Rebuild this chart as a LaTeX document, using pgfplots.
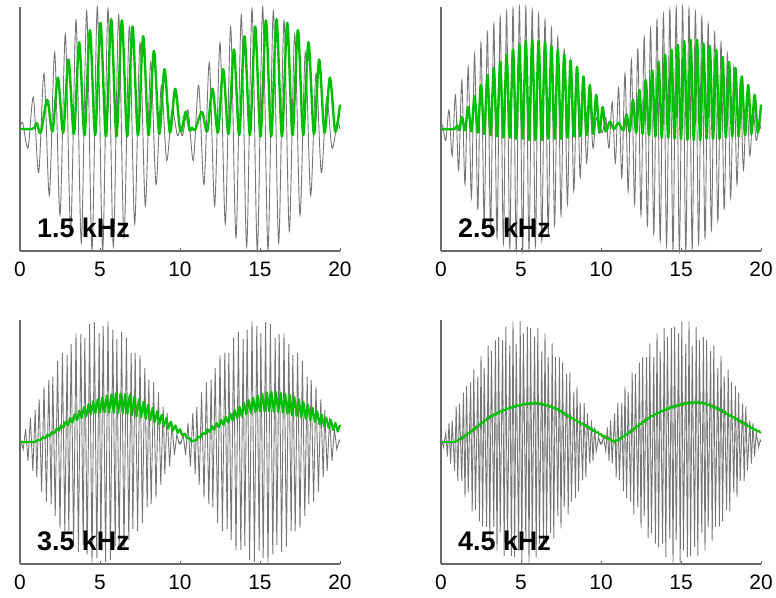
\documentclass[border=0pt]{standalone}
\usepackage{fontspec}
\setmainfont{Liberation Sans}
\usepackage{pgfplots}
\pgfplotsset{compat=1.18}
\usetikzlibrary{decorations.pathmorphing}
\definecolor{wave}{RGB}{118,118,118}
\definecolor{resp}{RGB}{0,190,0}
\definecolor{axgray}{RGB}{105,105,105}
\tikzset{lab/.style={anchor=base west, inner sep=0pt, font=\fontsize{27}{30}\selectfont\bfseries}}
\pgfplotsset{
  panel/.style={width=320bp,height=244bp,scale only axis,
    xmin=0,xmax=20,ymin=-1,ymax=1,
    axis lines*=left, axis line style={-,draw=axgray,line width=1.1bp},
    ytick=\empty, xtick={0,5,10,15,20},
    tick align=inside, major tick length=3bp,
    xtick style={draw=axgray,line width=0.9bp},
    xticklabel style={font=\fontsize{21}{25}\selectfont, inner sep=0pt, yshift=-11bp},
    /pgf/number format/assume math mode=true,
    clip=false, anchor=south west},
  gr/.style={wave, line width=0.9bp},
  gn/.style={resp, line width=2.4bp, line join=round}
}
\begin{document}
\begin{tikzpicture}
\useasboundingbox (0,0) rectangle (776bp,-598bp);

% ---------------- 1.5 kHz ----------------
\begin{axis}[panel, at={(20bp,-251bp)}]
\addplot[gr, smooth] coordinates {
(0,0)(0.167,0.0523)(0.5,-0.1564)(0.833,0.2588)(1.167,-0.3584)(1.5,0.4540)(1.833,-0.5446)(2.167,0.6293)(2.5,-0.7071)(2.833,0.7771)(3.167,-0.8387)(3.5,0.8910)(3.833,-0.9336)(4.167,0.9659)(4.5,-0.9877)(4.833,0.9986)(5.167,-0.9986)(5.5,0.9877)(5.833,-0.9659)(6.167,0.9336)(6.5,-0.8910)(6.833,0.8387)(7.167,-0.7771)(7.5,0.7071)(7.833,-0.6293)(8.167,0.5446)(8.5,-0.4540)(8.833,0.3584)(9.167,-0.2588)(9.5,0.1564)(9.833,-0.0523)(10,0)
(10.167,-0.0523)(10.5,0.1564)(10.833,-0.2588)(11.167,0.3584)(11.5,-0.4540)(11.833,0.5446)(12.167,-0.6293)(12.5,0.7071)(12.833,-0.7771)(13.167,0.8387)(13.5,-0.8910)(13.833,0.9336)(14.167,-0.9659)(14.5,0.9877)(14.833,-0.9986)(15.167,0.9986)(15.5,-0.9877)(15.833,0.9659)(16.167,-0.9336)(16.5,0.8910)(16.833,-0.8387)(17.167,0.7771)(17.5,-0.7071)(17.833,0.6293)(18.167,-0.5446)(18.5,0.4540)(18.833,-0.3584)(19.167,0.2588)(19.5,-0.1564)(19.833,0.0523)(20,0)};
\addplot[gn, smooth] coordinates {
(0,0)(0.75,0)(0.9,0.01)(1.05,0.05)(1.3,-0.03)(1.7,0.24)(2.03,-0.02)(2.37,0.42)(2.7,-0.03)(3.03,0.57)(3.37,-0.04)(3.7,0.71)(4.03,-0.05)(4.37,0.81)(4.7,-0.05)(5.03,0.87)(5.37,-0.06)(5.7,0.90)(6.03,-0.06)(6.37,0.89)(6.7,-0.06)(7.03,0.84)(7.37,-0.05)(7.7,0.76)(8.03,-0.05)(8.37,0.64)(8.7,-0.04)(9.03,0.49)(9.37,-0.03)(9.7,0.33)(10.03,-0.02)(10.36,0.14)(10.6,-0.01)(10.75,0.01)(10.95,-0.005)
(11.37,0.14)(11.7,-0.02)(12.03,0.33)(12.37,-0.03)(12.7,0.49)(13.03,-0.04)(13.37,0.65)(13.7,-0.05)(14.03,0.76)(14.37,-0.05)(14.7,0.84)(15.03,-0.06)(15.37,0.89)(15.7,-0.06)(16.03,0.90)(16.37,-0.06)(16.7,0.87)(17.03,-0.05)(17.37,0.81)(17.7,-0.05)(18.03,0.71)(18.37,-0.04)(18.7,0.57)(19.03,-0.03)(19.37,0.42)(19.7,-0.02)(20,0.2)};
\node[lab] at (axis cs:1.06,-0.893) {1.5 kHz};
\end{axis}

% ---------------- 2.5 kHz ----------------
\begin{axis}[panel, at={(441bp,-251bp)}]
\addplot[gr, smooth] coordinates {
(0,0)(0.1,0.0314)(0.3,-0.0941)(0.5,0.1564)(0.7,-0.2181)(0.9,0.2790)(1.1,-0.3387)(1.3,0.3971)(1.5,-0.4540)(1.7,0.5090)(1.9,-0.5621)(2.1,0.6129)(2.3,-0.6613)(2.5,0.7071)(2.7,-0.7501)(2.9,0.7902)(3.1,-0.8271)(3.3,0.8607)(3.5,-0.8910)(3.7,0.9178)(3.9,-0.9409)(4.1,0.9603)(4.3,-0.9759)(4.5,0.9877)(4.7,-0.9956)(4.9,0.9995)(5.1,-0.9995)(5.3,0.9956)(5.5,-0.9877)(5.7,0.9759)(5.9,-0.9603)(6.1,0.9409)(6.3,-0.9178)(6.5,0.8910)(6.7,-0.8607)(6.9,0.8271)(7.1,-0.7902)(7.3,0.7501)(7.5,-0.7071)(7.7,0.6613)(7.9,-0.6129)(8.1,0.5621)(8.3,-0.5090)(8.5,0.4540)(8.7,-0.3971)(8.9,0.3387)(9.1,-0.2790)(9.3,0.2181)(9.5,-0.1564)(9.7,0.0941)(9.9,-0.0314)(10,0)
(10.1,-0.0314)(10.3,0.0941)(10.5,-0.1564)(10.7,0.2181)(10.9,-0.2790)(11.1,0.3387)(11.3,-0.3971)(11.5,0.4540)(11.7,-0.5090)(11.9,0.5621)(12.1,-0.6129)(12.3,0.6613)(12.5,-0.7071)(12.7,0.7501)(12.9,-0.7902)(13.1,0.8271)(13.3,-0.8607)(13.5,0.8910)(13.7,-0.9178)(13.9,0.9409)(14.1,-0.9603)(14.3,0.9759)(14.5,-0.9877)(14.7,0.9956)(14.9,-0.9995)(15.1,0.9995)(15.3,-0.9956)(15.5,0.9877)(15.7,-0.9759)(15.9,0.9603)(16.1,-0.9409)(16.3,0.9178)(16.5,-0.8910)(16.7,0.8607)(16.9,-0.8271)(17.1,0.7902)(17.3,-0.7501)(17.5,0.7071)(17.7,-0.6613)(17.9,0.6129)(18.1,-0.5621)(18.3,0.5090)(18.5,-0.4540)(18.7,0.3971)(18.9,-0.3387)(19.1,0.2790)(19.3,-0.2181)(19.5,0.1564)(19.7,-0.0941)(19.9,0.0314)(20,0)};
\addplot[gn, smooth] coordinates {
(0,0)(0.85,0)(1.0,0.03)(1.15,-0.01)(1.3,0.10)(1.5,-0.01)(1.7,0.18)(1.9,-0.02)(2.1,0.27)(2.3,-0.03)(2.5,0.36)(2.7,-0.04)(2.9,0.44)(3.1,-0.05)(3.3,0.50)(3.5,-0.06)(3.7,0.55)(3.9,-0.07)(4.1,0.61)(4.3,-0.07)(4.5,0.65)(4.7,-0.08)(4.9,0.69)(5.1,-0.08)(5.3,0.72)(5.5,-0.09)(5.7,0.73)(5.9,-0.09)(6.1,0.72)(6.3,-0.09)(6.5,0.71)(6.7,-0.08)(6.9,0.68)(7.1,-0.08)(7.3,0.65)(7.5,-0.08)(7.7,0.61)(7.9,-0.07)(8.1,0.56)(8.3,-0.06)(8.5,0.51)(8.7,-0.06)(8.9,0.43)(9.1,-0.05)(9.3,0.36)(9.5,-0.04)(9.7,0.28)(9.9,-0.03)(10.1,0.18)(10.3,-0.02)(10.55,0.06)(10.8,0)(11.1,0.05)(11.4,-0.01)(11.6,0.12)(11.8,-0.02)
(12.0,0.24)(12.2,-0.03)(12.4,0.32)(12.6,-0.04)(12.8,0.40)(13.0,-0.05)(13.2,0.48)(13.4,-0.06)(13.6,0.55)(13.8,-0.07)(14.0,0.61)(14.2,-0.07)(14.4,0.65)(14.6,-0.08)(14.8,0.69)(15.0,-0.08)(15.2,0.72)(15.4,-0.09)(15.6,0.73)(15.8,-0.09)(16.0,0.73)(16.2,-0.09)(16.4,0.70)(16.6,-0.08)(16.8,0.68)(17.0,-0.08)(17.2,0.65)(17.4,-0.08)(17.6,0.59)(17.8,-0.07)(18.0,0.55)(18.2,-0.06)(18.4,0.50)(18.6,-0.06)(18.8,0.43)(19.0,-0.05)(19.2,0.36)(19.4,-0.04)(19.6,0.28)(19.8,-0.03)(20.0,0.20)};
\node[lab] at (axis cs:1.06,-0.893) {2.5 kHz};
\end{axis}

% ---------------- 3.5 kHz ----------------
\begin{axis}[panel, at={(20bp,-564bp)}]
\addplot[gr] coordinates {
(0,0)(0.05,0.014)(0.2,-0.060)(0.35,0.108)(0.5,-0.156)(0.65,0.200)(0.8,-0.237)(0.95,0.262)(1.05,-0.289)(1.2,0.350)(1.35,-0.407)(1.5,0.454)(1.65,-0.489)(1.8,0.510)(1.95,-0.512)(2.05,0.535)(2.2,-0.606)(2.35,0.665)(2.5,-0.707)(2.65,0.731)(2.8,-0.733)(2.95,0.712)(3.05,-0.729)(3.2,0.803)(3.35,-0.858)(3.5,0.891)(3.65,-0.900)(3.8,0.884)(3.95,-0.843)(4.05,0.852)(4.2,-0.921)(4.35,0.967)(4.5,-0.988)(4.65,0.982)(4.8,-0.949)(4.95,0.891)(5.05,-0.891)(5.2,0.949)(5.35,-0.982)(5.5,0.988)(5.65,-0.967)(5.8,0.921)(5.95,-0.852)(6.05,0.843)(6.2,-0.884)(6.35,0.900)(6.5,-0.891)(6.65,0.858)(6.8,-0.803)(6.95,0.729)(7.05,-0.712)(7.2,0.733)(7.35,-0.731)(7.5,0.707)(7.65,-0.665)(7.8,0.606)(7.95,-0.535)(8.05,0.512)(8.2,-0.510)(8.35,0.489)(8.5,-0.454)(8.65,0.407)(8.8,-0.350)(8.95,0.289)(9.05,-0.262)(9.2,0.237)(9.35,-0.200)(9.5,0.156)(9.65,-0.108)(9.8,0.060)(9.95,-0.014)(10,0)
(10.05,-0.014)(10.2,0.060)(10.35,-0.108)(10.5,0.156)(10.65,-0.200)(10.8,0.237)(10.95,-0.262)(11.05,0.289)(11.2,-0.350)(11.35,0.407)(11.5,-0.454)(11.65,0.489)(11.8,-0.510)(11.95,0.512)(12.05,-0.535)(12.2,0.606)(12.35,-0.665)(12.5,0.707)(12.65,-0.731)(12.8,0.733)(12.95,-0.712)(13.05,0.729)(13.2,-0.803)(13.35,0.858)(13.5,-0.891)(13.65,0.900)(13.8,-0.884)(13.95,0.843)(14.05,-0.852)(14.2,0.921)(14.35,-0.967)(14.5,0.988)(14.65,-0.982)(14.8,0.949)(14.95,-0.891)(15.05,0.891)(15.2,-0.949)(15.35,0.982)(15.5,-0.988)(15.65,0.967)(15.8,-0.921)(15.95,0.852)(16.05,-0.843)(16.2,0.884)(16.35,-0.900)(16.5,0.891)(16.65,-0.858)(16.8,0.803)(16.95,-0.729)(17.05,0.712)(17.2,-0.733)(17.35,0.731)(17.5,-0.707)(17.65,0.665)(17.8,-0.606)(17.95,0.535)(18.05,-0.512)(18.2,0.510)(18.35,-0.489)(18.5,0.454)(18.65,-0.407)(18.8,0.350)(18.95,-0.289)(19.05,0.262)(19.2,-0.237)(19.35,0.200)(19.5,-0.156)(19.65,0.108)(19.8,-0.060)(19.95,0.014)(20,0)};
\addplot[gn, line width=2.2bp] coordinates {
(0,0)(0.857,0)(1.0,0.005)(1.143,0.018)(1.286,0.016)(1.429,0.040)(1.571,0.030)(1.714,0.061)(1.857,0.049)(2.0,0.082)(2.143,0.070)(2.286,0.110)(2.429,0.094)(2.571,0.137)(2.714,0.117)(2.857,0.166)(3.0,0.140)(3.143,0.196)(3.286,0.160)(3.429,0.228)(3.571,0.180)(3.714,0.256)(3.857,0.197)(4.0,0.285)(4.143,0.212)(4.286,0.311)(4.429,0.226)(4.571,0.334)(4.714,0.235)(4.857,0.351)(5.0,0.240)(5.143,0.367)(5.286,0.243)(5.429,0.382)(5.571,0.244)(5.714,0.391)(5.857,0.241)(6.0,0.400)(6.143,0.239)(6.286,0.397)(6.429,0.236)(6.571,0.393)(6.714,0.229)(6.857,0.384)(7.0,0.220)(7.143,0.370)(7.286,0.211)(7.429,0.350)(7.571,0.202)(7.714,0.328)(7.857,0.191)(8.0,0.305)(8.143,0.178)(8.286,0.279)(8.429,0.164)(8.571,0.253)(8.714,0.147)(8.857,0.224)(9.0,0.130)(9.143,0.196)(9.286,0.113)(9.429,0.167)(9.571,0.095)(9.714,0.136)(9.857,0.075)(10.0,0.105)
(10.143,0.054)(10.286,0.069)(10.429,0.032)(10.571,0.034)(10.714,0.004)(10.857,0.011)(11.0,0.013)(11.143,0.044)(11.286,0.037)(11.429,0.076)(11.571,0.063)(11.714,0.105)(11.857,0.081)(12.0,0.130)(12.143,0.100)(12.286,0.156)(12.429,0.120)(12.571,0.181)(12.714,0.140)(12.857,0.207)(13.0,0.160)(13.143,0.234)(13.286,0.177)(13.429,0.263)(13.571,0.194)(13.714,0.291)(13.857,0.212)(14.0,0.320)(14.143,0.226)(14.286,0.343)(14.429,0.237)(14.571,0.364)(14.714,0.244)(14.857,0.381)(15.0,0.250)(15.143,0.396)(15.286,0.250)(15.429,0.407)(15.571,0.250)(15.714,0.410)(15.857,0.250)(16.0,0.410)(16.143,0.247)(16.286,0.404)(16.429,0.241)(16.571,0.397)(16.714,0.231)(16.857,0.386)(17.0,0.220)(17.143,0.370)(17.286,0.211)(17.429,0.350)(17.571,0.202)(17.714,0.328)(17.857,0.191)(18.0,0.305)(18.143,0.178)(18.286,0.279)(18.429,0.164)(18.571,0.253)(18.714,0.147)(18.857,0.224)(19.0,0.130)(19.143,0.199)(19.286,0.118)(19.429,0.181)(19.571,0.098)(19.714,0.157)(19.857,0.086)(20.0,0.140)};
\node[lab] at (axis cs:1.06,-0.893) {3.5 kHz};
\end{axis}

% ---------------- 4.5 kHz ----------------
\begin{axis}[panel, at={(441bp,-564bp)}]
\addplot[gr] coordinates {
(0,0)(0.05,0.016)(0.15,-0.042)(0.3,0.076)(0.4,-0.119)(0.5,0.156)(0.6,-0.178)(0.7,0.176)(0.85,-0.235)(0.95,0.290)(1.05,-0.320)(1.15,0.315)(1.3,-0.321)(1.4,0.405)(1.5,-0.454)(1.6,0.458)(1.7,-0.412)(1.85,0.489)(1.95,-0.568)(2.05,0.593)(2.15,-0.557)(2.3,0.535)(2.4,-0.651)(2.5,0.707)(2.6,-0.693)(2.7,0.607)(2.85,-0.695)(2.95,0.790)(3.05,-0.808)(3.15,0.745)(3.3,-0.696)(3.4,0.833)(3.5,-0.891)(3.6,0.860)(3.7,-0.743)(3.85,0.833)(3.95,-0.935)(4.05,0.944)(4.15,-0.859)(4.3,0.790)(4.4,-0.934)(4.5,0.988)(4.6,-0.943)(4.7,0.805)(4.85,-0.890)(4.95,0.988)(5.05,-0.988)(5.15,0.890)(5.3,-0.805)(5.4,0.943)(5.5,-0.988)(5.6,0.934)(5.7,-0.790)(5.85,0.859)(5.95,-0.944)(6.05,0.935)(6.15,-0.833)(6.3,0.743)(6.4,-0.860)(6.5,0.891)(6.6,-0.833)(6.7,0.696)(6.85,-0.745)(6.95,0.808)(7.05,-0.790)(7.15,0.695)(7.3,-0.607)(7.4,0.693)(7.5,-0.707)(7.6,0.651)(7.7,-0.535)(7.85,0.557)(7.95,-0.593)(8.05,0.568)(8.15,-0.489)(8.3,0.412)(8.4,-0.458)(8.5,0.454)(8.6,-0.405)(8.7,0.321)(8.85,-0.315)(8.95,0.320)(9.05,-0.290)(9.15,0.235)(9.3,-0.176)(9.4,0.178)(9.5,-0.156)(9.6,0.119)(9.7,-0.076)(9.85,0.042)(9.95,-0.016)(10,0)
(10.05,-0.016)(10.15,0.042)(10.3,-0.076)(10.4,0.119)(10.5,-0.156)(10.6,0.178)(10.7,-0.176)(10.85,0.235)(10.95,-0.290)(11.05,0.320)(11.15,-0.315)(11.3,0.321)(11.4,-0.405)(11.5,0.454)(11.6,-0.458)(11.7,0.412)(11.85,-0.489)(11.95,0.568)(12.05,-0.593)(12.15,0.557)(12.3,-0.535)(12.4,0.651)(12.5,-0.707)(12.6,0.693)(12.7,-0.607)(12.85,0.695)(12.95,-0.790)(13.05,0.808)(13.15,-0.745)(13.3,0.696)(13.4,-0.833)(13.5,0.891)(13.6,-0.860)(13.7,0.743)(13.85,-0.833)(13.95,0.935)(14.05,-0.944)(14.15,0.859)(14.3,-0.790)(14.4,0.934)(14.5,-0.988)(14.6,0.943)(14.7,-0.805)(14.85,0.890)(14.95,-0.988)(15.05,0.988)(15.15,-0.890)(15.3,0.805)(15.4,-0.943)(15.5,0.988)(15.6,-0.934)(15.7,0.790)(15.85,-0.859)(15.95,0.944)(16.05,-0.935)(16.15,0.833)(16.3,-0.743)(16.4,0.860)(16.5,-0.891)(16.6,0.833)(16.7,-0.696)(16.85,0.745)(16.95,-0.808)(17.05,0.790)(17.15,-0.695)(17.3,0.607)(17.4,-0.693)(17.5,0.707)(17.6,-0.651)(17.7,0.535)(17.85,-0.557)(17.95,0.593)(18.05,-0.568)(18.15,0.489)(18.3,-0.412)(18.4,0.458)(18.5,-0.454)(18.6,0.405)(18.7,-0.321)(18.85,0.315)(18.95,-0.320)(19.05,0.290)(19.15,-0.235)(19.3,0.176)(19.4,-0.178)(19.5,0.156)(19.6,-0.119)(19.7,0.076)(19.85,-0.042)(19.95,0.016)(20,0)};
\addplot[gn, line width=1.8bp] coordinates {(0,0)(0.9,0)};
\addplot[gn, line width=1.8bp, decorate, decoration={zigzag, segment length=3.55bp, amplitude=1bp}] coordinates {
(0.9,0)(1.5,0.05)(2,0.096)(2.5,0.15)(3,0.20)(3.5,0.235)(4,0.265)(4.5,0.29)(5,0.306)(5.5,0.317)(6,0.32)(6.5,0.307)(7,0.285)(7.5,0.25)(8,0.21)(8.5,0.172)(9,0.135)(9.5,0.097)(10,0.06)(10.87,0)
(11.5,0.055)(12,0.10)(12.5,0.15)(13,0.20)(13.5,0.235)(14,0.265)(14.5,0.29)(15,0.307)(15.5,0.32)(16,0.325)(16.5,0.315)(17,0.29)(17.5,0.26)(18,0.222)(18.5,0.185)(19,0.147)(19.5,0.11)(20,0.075)};
\node[lab] at (axis cs:1.06,-0.893) {4.5 kHz};
\end{axis}
\end{tikzpicture}
\end{document}
